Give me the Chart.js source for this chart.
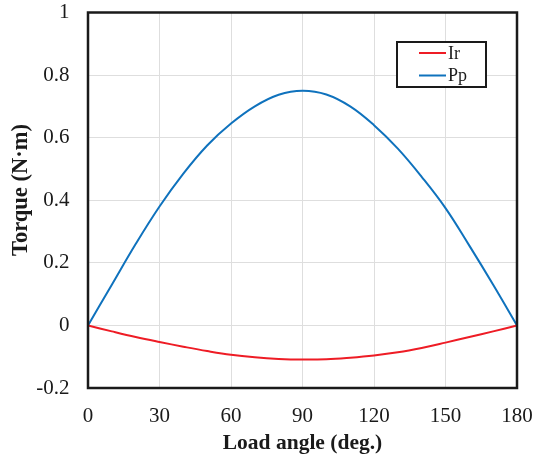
<!DOCTYPE html>
<html>
<head>
<meta charset="utf-8">
<script src="https://cdn.jsdelivr.net/npm/chart.js@4/dist/chart.umd.min.js"></script>
<style>
  html, body { margin: 0; padding: 0; background: #ffffff; }
  canvas { display: block; }
</style>
</head>
<body>
<canvas id="c" width="533" height="457"></canvas>
<script>
// ---- data ----
const loadAngles = [0, 10, 20, 30, 40, 50, 60, 70, 80, 90, 100, 110, 120, 130, 140, 150, 160, 170, 180];
const torqueIr = [0, -0.019, -0.037, -0.053, -0.068, -0.082, -0.094, -0.102, -0.107, -0.109, -0.108, -0.103, -0.096, -0.086, -0.072, -0.055, -0.037, -0.019, 0];
const torquePp = [0, 0.13, 0.26, 0.38, 0.485, 0.575, 0.645, 0.70, 0.737, 0.75, 0.738, 0.70, 0.64, 0.565, 0.475, 0.375, 0.255, 0.13, 0];
const seriesNames = ['Ir', 'Pp'];
const xTicks = [0, 30, 60, 90, 120, 150, 180];
const yTicks = [-0.2, 0, 0.2, 0.4, 0.6, 0.8, 1];
const xTitle = 'Load angle (deg.)';
const yTitle = 'Torque (N\u00b7m)';

const serif = '"Liberation Serif", "Times New Roman", serif';
const toPts = (ys) => loadAngles.map((x, i) => ({ x: x, y: ys[i] }));

const frame = {
  id: 'frame',
  afterDraw(chart) {
    const { ctx, chartArea: a } = chart;
    ctx.save();
    ctx.strokeStyle = '#1a1a1a';
    ctx.lineWidth = 2.5;
    ctx.strokeRect(a.left, a.top, a.right - a.left, a.bottom - a.top);
    // y axis title
    ctx.fillStyle = '#1a1a1a';
    ctx.font = 'bold 22.5px ' + serif;
    ctx.textAlign = 'center';
    ctx.textBaseline = 'alphabetic';
    ctx.translate(27, 190);
    ctx.rotate(-Math.PI / 2);
    ctx.fillText(yTitle, 0, 0);
    ctx.restore();

    // legend box
    const bx = 397, by = 42, bw = 89, bh = 45;
    ctx.save();
    ctx.fillStyle = '#ffffff';
    ctx.fillRect(bx, by, bw, bh);
    ctx.strokeStyle = '#1a1a1a';
    ctx.lineWidth = 2;
    ctx.strokeRect(bx, by, bw, bh);
    ctx.font = '18px ' + serif;
    ctx.textAlign = 'left';
    ctx.textBaseline = 'middle';
    chart.data.datasets.forEach((ds, i) => {
      const y = by + 11 + i * 22.5;
      ctx.strokeStyle = ds.borderColor;
      ctx.lineWidth = 2;
      ctx.beginPath();
      ctx.moveTo(bx + 22, y);
      ctx.lineTo(bx + 49, y);
      ctx.stroke();
      ctx.fillStyle = '#1a1a1a';
      ctx.fillText(ds.label, bx + 51, y + 1);
    });
    ctx.restore();
  }
};

new Chart(document.getElementById('c'), {
  type: 'line',
  data: {
    datasets: [
      { label: seriesNames[0], data: toPts(torqueIr), borderColor: '#ee1c25', borderWidth: 2, pointRadius: 0, tension: 0.4, fill: false },
      { label: seriesNames[1], data: toPts(torquePp), borderColor: '#0f72bd', borderWidth: 2, pointRadius: 0, tension: 0.4, fill: false }
    ]
  },
  options: {
    responsive: false,
    animation: false,
    layout: { padding: { left: 0, right: 16, top: 12.5, bottom: 0 } },
    plugins: { legend: { display: false }, tooltip: { enabled: false } },
    scales: {
      x: {
        type: 'linear', min: 0, max: 180,
        afterBuildTicks: (s) => { s.ticks = xTicks.map(v => ({ value: v })); },
        afterFit: (s) => { s.height = 69; s.paddingLeft = 0; s.paddingRight = 0; },
        grid: { color: '#dedede', lineWidth: 1, drawTicks: false },
        border: { display: false },
        ticks: { color: '#1a1a1a', font: { family: serif, size: 21 }, padding: 15.5, maxRotation: 0, autoSkip: false },
        title: { display: true, text: xTitle, color: '#1a1a1a', font: { family: serif, size: 21.5, weight: 'bold' }, padding: { top: 0, bottom: 1 } }
      },
      y: {
        type: 'linear', min: -0.2, max: 1,
        afterBuildTicks: (s) => { s.ticks = yTicks.map(v => ({ value: v })); },
        afterFit: (s) => { s.width = 88; s.paddingTop = 0; s.paddingBottom = 0; },
        grid: { color: '#dedede', lineWidth: 1, drawTicks: false },
        border: { display: false },
        ticks: { color: '#1a1a1a', font: { family: serif, size: 21 }, padding: 18.5, autoSkip: false,
          callback: (v) => String(Math.round(v * 10) / 10) },
        title: { display: false }
      }
    }
  },
  plugins: [frame]
});
</script>
</body>
</html>
